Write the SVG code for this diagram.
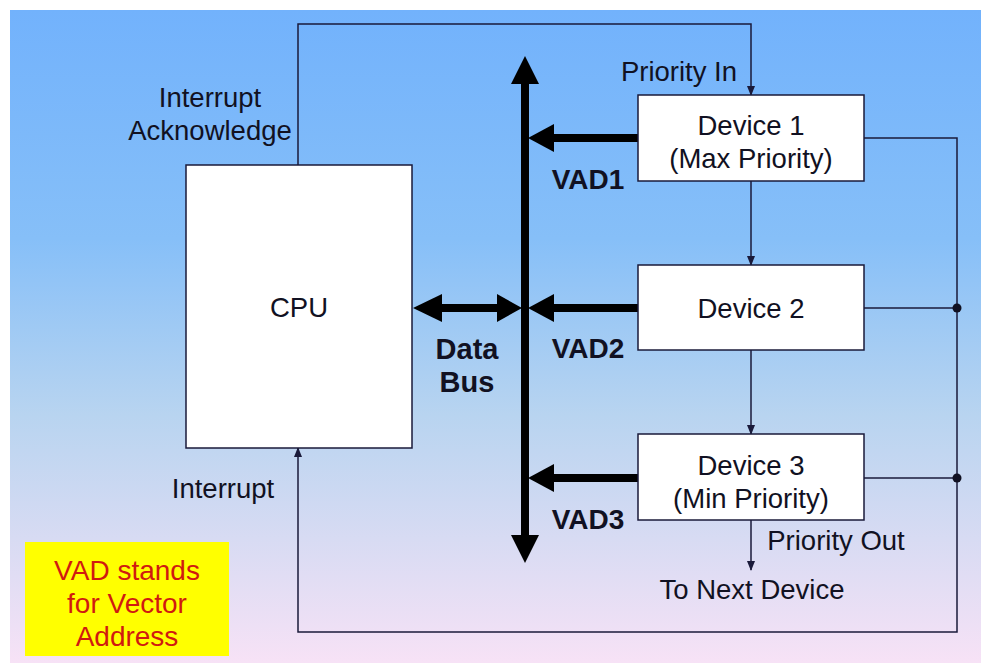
<svg xmlns="http://www.w3.org/2000/svg" width="981" height="663" viewBox="0 0 981 663">
<defs>
<linearGradient id="bg" x1="0" y1="0" x2="0" y2="1">
<stop offset="0" stop-color="#72b2fc"/>
<stop offset="0.35" stop-color="#86bff8"/>
<stop offset="0.62" stop-color="#b8d4f0"/>
<stop offset="1" stop-color="#f7e2f6"/>
</linearGradient>
<marker id="sa" markerWidth="10" markerHeight="10" refX="9" refY="5" orient="auto" markerUnits="userSpaceOnUse">
<path d="M0,1 L10,5 L0,9 z" fill="#1a1a3a"/>
</marker>
<style>
.box{fill:#ffffff;stroke:#1a1a3a;stroke-width:1.5}
.ln{fill:none;stroke:#1a1a3a;stroke-width:1.5}
.t{font-family:"Liberation Sans",Arial,sans-serif;font-size:27.5px;fill:#111122;text-anchor:middle}
.b{font-family:"Liberation Sans",Arial,sans-serif;font-size:28px;font-weight:bold;fill:#111122;text-anchor:middle}
.r{font-family:"Liberation Sans",Arial,sans-serif;font-size:28px;fill:#d01a10;text-anchor:middle}
.thick{fill:#000000}
</style>
</defs>
<rect x="0" y="0" width="981" height="663" fill="#ffffff"/>
<rect x="10" y="10" width="971" height="653" fill="url(#bg)"/>

<g id="connectors">
<polyline class="ln" points="298,165 298,24 751,24 751,95" marker-end="url(#sa)"/>
<line class="ln" x1="751" y1="181" x2="751" y2="265" marker-end="url(#sa)"/>
<line class="ln" x1="751" y1="350" x2="751" y2="434" marker-end="url(#sa)"/>
<line class="ln" x1="751" y1="520" x2="751" y2="570" marker-end="url(#sa)"/>
<polyline class="ln" points="864,138 957,138 957,632 298,632 298,448" marker-end="url(#sa)"/>
<line class="ln" x1="864" y1="308" x2="957" y2="308"/>
<line class="ln" x1="864" y1="478" x2="957" y2="478"/>
<circle cx="957" cy="308" r="4.5" fill="#111122"/>
<circle cx="957" cy="478" r="4.5" fill="#111122"/>
<rect class="thick" x="521" y="80" width="8" height="458"/>
<path class="thick" d="M525,56 L539,84 L511,84 z"/>
<path class="thick" d="M525,563 L539,535 L511,535 z"/>
<rect class="thick" x="438" y="304" width="64" height="8"/>
<path class="thick" d="M413,308 L442,294 L442,322 z"/>
<path class="thick" d="M522,308 L497,294 L497,322 z"/>
<rect class="thick" x="550" y="134" width="88" height="8"/>
<path class="thick" d="M528,138 L554,124 L554,152 z"/>
<rect class="thick" x="550" y="304" width="88" height="8"/>
<path class="thick" d="M528,308 L554,294 L554,322 z"/>
<rect class="thick" x="550" y="474" width="88" height="8"/>
<path class="thick" d="M528,478 L554,464 L554,492 z"/>
</g>

<g id="cpu">
<rect class="box" x="186" y="165" width="226" height="283"/>
<text class="t" x="299" y="317">CPU</text>
</g>

<g id="device1">
<rect class="box" x="638" y="95" width="226" height="86"/>
<text class="t" x="751" y="135">Device 1</text>
<text class="t" x="751" y="168">(Max Priority)</text>
</g>

<g id="device2">
<rect class="box" x="638" y="265" width="226" height="85"/>
<text class="t" x="751" y="318">Device 2</text>
</g>

<g id="device3">
<rect class="box" x="638" y="434" width="226" height="86"/>
<text class="t" x="751" y="475">Device 3</text>
<text class="t" x="751" y="508">(Min Priority)</text>
</g>

<g id="labels">
<text class="t" x="210" y="107">Interrupt</text>
<text class="t" x="210" y="140">Acknowledge</text>
<text class="t" x="223" y="498">Interrupt</text>
<text class="t" x="679" y="81">Priority In</text>
<text class="t" x="836" y="550">Priority Out</text>
<text class="t" x="752" y="599">To Next Device</text>
<text class="b" x="467" y="359" style="font-size:29px">Data</text>
<text class="b" x="467" y="392" style="font-size:29px">Bus</text>
<text class="b" x="588" y="189">VAD1</text>
<text class="b" x="588" y="358">VAD2</text>
<text class="b" x="588" y="529">VAD3</text>
</g>

<g id="note">
<rect x="25" y="542" width="204" height="114" fill="#ffff00"/>
<text class="r" x="127" y="580">VAD stands</text>
<text class="r" x="127" y="613">for Vector</text>
<text class="r" x="127" y="646">Address</text>
</g>
</svg>
